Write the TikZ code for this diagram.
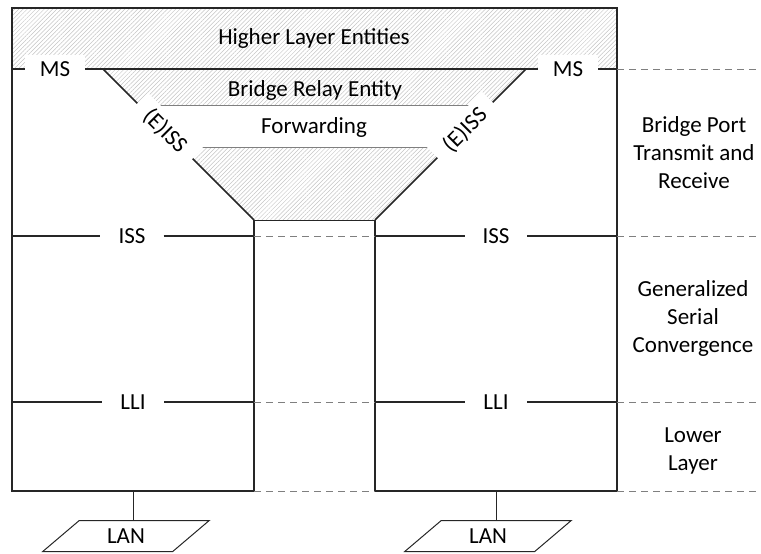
\documentclass[tikz,border=0pt]{standalone}
\usepackage{fontspec}
\setmainfont{Carlito}
\usetikzlibrary{patterns.meta,shapes.geometric}
\definecolor{LineGray}{HTML}{7F7F7F}
\definecolor{HatchGray}{HTML}{C4C4C4}
\tikzstyle{lbl} = [font=\fontsize{23}{28}\selectfont, align=center, text=black]
\tikzstyle{cut} = [lbl, fill=white, inner sep=0pt]
\tikzstyle{hatch} = [pattern={Lines[angle=45,distance=3pt,line width=0.5pt]}, pattern color=HatchGray]
\tikzstyle{bl} = [draw=black!85, line width=1.5pt]
\tikzstyle{gl} = [draw=LineGray, line width=1pt]
\tikzstyle{dl} = [gl, dash pattern=on 7pt off 5pt]
\tikzstyle{lan} = [lbl, draw=black!85, line width=1pt, trapezium, trapezium left angle=45, trapezium right angle=135, trapezium stretches=true, minimum width=167, minimum height=31, inner sep=0pt]

\begin{document}
\begin{tikzpicture}[x=1pt,y=-1pt]
\useasboundingbox (0,0) rectangle (761,554);
% frame and funnel corners
\coordinate (tl) at (12,8);
\coordinate (tr) at (617,8);
\coordinate (bl) at (12,491);
\coordinate (br) at (617,491);
\coordinate (rim) at (761,491);
\coordinate (fa) at (103,69);
\coordinate (fb) at (526,69);
\coordinate (fc) at (375,220);
\coordinate (fd) at (254,220);
\coordinate (portL) at (133,491);
\coordinate (portR) at (496,491);
% hatched areas
\fill[hatch] (tl) rectangle (617,69);
\fill[hatch] (fa) -- (fb) -- (fc) -- (fd) -- cycle;
\fill[white] (139,105) -- (490,105) -- (449,147) -- (180,147) -- cycle;
\draw[gl] (139,105) -- (490,105);
\draw[gl] (180,147) -- (449,147);
% texts
\node[lbl] (hle) at (314,38) {Higher Layer Entities};
\node[lbl] (bre) at (315,90) {Bridge Relay Entity};
\node[lbl] (fwd) at (314,127) {Forwarding};
\node[lbl] (bptr) at (694,153) {Bridge Port\\Transmit and\\Receive};
\node[lbl] (gsc) at (693,318) {Generalized\\Serial\\Convergence};
\node[lbl] (ll) at (693,451) {Lower\\Layer};
% interfaces
\node[cut, minimum width=60, minimum height=28] (msL) at (55,69) {MS};
\node[cut, minimum width=60, minimum height=28] (msR) at (568,69) {MS};
\node[cut, rotate=-45, minimum width=78, minimum height=30] (eissL) at (165,131) {(E)ISS};
\node[cut, rotate=45, minimum width=78, minimum height=30] (eissR) at (465,130) {(E)ISS};
\node[cut, minimum width=63, minimum height=24] (issL) at (132,236) {ISS};
\node[cut, minimum width=62, minimum height=24] (issR) at (496,236) {ISS};
\node[cut, minimum width=62, minimum height=24] (lliL) at (133,402) {LLI};
\node[cut, minimum width=62, minimum height=24] (lliR) at (496,402) {LLI};
\node[lan] (lanL) at (126,536) {LAN};
\node[lan] (lanR) at (488,536) {LAN};
% boxes
\draw[bl] (fd |- bl) -- (bl) -- (tl) -- (tr) -- (br) -- (fc |- br);
\draw[bl] (fd) -- (fd |- bl);
\draw[bl] (fc) -- (fc |- br);
\draw[bl, line width=1pt] (fd) -- (fc);
\draw[bl] (tl |- msL) -- (msL);
\draw[bl] (msL) -- (msR);
\draw[bl] (msR) -- (tr |- msR);
\draw[bl] (fa) -- (eissL);
\draw[bl] (eissL) -- (fd);
\draw[bl] (fb) -- (eissR);
\draw[bl] (eissR) -- (fc);
\draw[bl] (tl |- issL) -- (issL);
\draw[bl] (issL) -- (fd |- issL);
\draw[bl] (fc |- issR) -- (issR);
\draw[bl] (issR) -- (tr |- issR);
\draw[bl] (tl |- lliL) -- (lliL);
\draw[bl] (lliL) -- (fd |- lliL);
\draw[bl] (fc |- lliR) -- (lliR);
\draw[bl] (lliR) -- (tr |- lliR);
% layer boundaries
\draw[dl] (tr |- msR) -- (rim |- msR);
\draw[dl] (fd |- issL) -- (fc |- issL);
\draw[dl] (tr |- issR) -- (rim |- issR);
\draw[dl] (fd |- lliL) -- (fc |- lliL);
\draw[dl] (tr |- lliR) -- (rim |- lliR);
\draw[dl] (fd |- bl) -- (fc |- bl);
\draw[dl] (br) -- (rim);
% LAN attachments
\draw[bl, line width=1pt] (portL) -- (portL |- lanL.north);
\draw[bl, line width=1pt] (portR) -- (portR |- lanR.north);
\end{tikzpicture}
\end{document}
